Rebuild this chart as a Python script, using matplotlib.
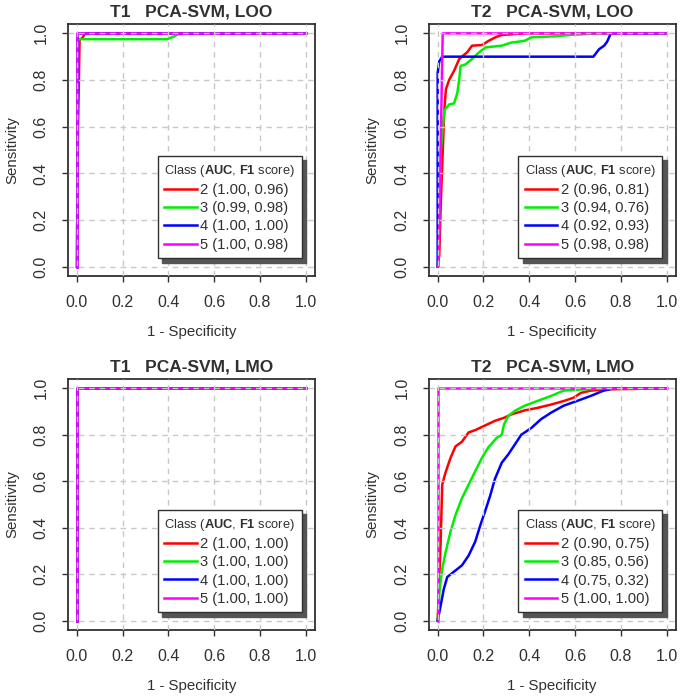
import matplotlib
matplotlib.use("Agg")
import matplotlib.pyplot as plt

# === ESTILO ===
plt.rcParams["font.family"] = ["Liberation Sans", "DejaVu Sans"]
plt.rcParams["mathtext.fontset"] = "custom"
plt.rcParams["mathtext.rm"] = "Liberation Sans"
plt.rcParams["mathtext.bf"] = "Liberation Sans:bold"

DARK = "#303030"
COLORES = ["#FF0000", "#00EE00", "#0000FF", "#FF00FF"]
CLASES = ["2", "3", "4", "5"]

# === DATOS ===
# curva perfecta
perf_fpr = [0.0, 0.0, 1.0]
perf_tpr = [0.0, 1.0, 1.0]

# T1 LOO
t1loo_c2_fpr = [0.0, 0.005, 0.008, 0.012, 0.023, 0.033, 0.045, 1.0]
t1loo_c2_tpr = [0.0, 0.60, 0.75, 0.975, 0.978, 0.995, 1.0, 1.0]
t1loo_c3_fpr = [0.0, 0.005, 0.395, 0.42, 0.445, 0.50, 1.0]
t1loo_c3_tpr = [0.0, 0.975, 0.975, 0.985, 0.997, 1.0, 1.0]

# T2 LOO
t2loo_c2_fpr = [0.0, 0.007, 0.014, 0.029, 0.036, 0.05, 0.072, 0.094, 0.13, 0.15, 0.194,
                0.223, 0.252, 0.28, 0.38, 1.0]
t2loo_c2_tpr = [0.0, 0.05, 0.28, 0.67, 0.76, 0.80, 0.84, 0.89, 0.92, 0.947, 0.95,
                0.968, 0.983, 0.993, 1.0, 1.0]
t2loo_c3_fpr = [0.0, 0.003, 0.014, 0.029, 0.05, 0.072, 0.086, 0.094, 0.10, 0.122, 0.15,
                0.18, 0.21, 0.28, 0.32, 0.38, 0.41, 0.51, 0.58, 0.70, 1.0]
t2loo_c3_tpr = [0.0, 0.05, 0.50, 0.67, 0.695, 0.70, 0.745, 0.80, 0.86, 0.867, 0.89,
                0.918, 0.94, 0.947, 0.96, 0.968, 0.983, 0.987, 0.993, 1.0, 1.0]
t2loo_c4_fpr = [0.0, 0.0, 0.007, 0.02, 0.68, 0.705, 0.727, 0.74, 0.755, 0.76, 1.0]
t2loo_c4_tpr = [0.0, 0.83, 0.88, 0.90, 0.90, 0.932, 0.947, 0.964, 0.997, 1.0, 1.0]
t2loo_c5_fpr = [0.0, 0.004, 0.022, 1.0]
t2loo_c5_tpr = [0.0, 0.0, 1.0, 1.0]

# T2 LMO
t2lmo_c2_fpr = [0.0, 0.013, 0.02, 0.032, 0.042, 0.056, 0.078, 0.106, 0.135, 0.164, 0.207,
                0.25, 0.29, 0.32, 0.38, 0.437, 0.495, 0.55, 0.595, 0.625, 0.668, 0.754,
                0.85, 0.95, 1.0]
t2lmo_c2_tpr = [0.0, 0.34, 0.585, 0.63, 0.66, 0.70, 0.75, 0.77, 0.81, 0.82, 0.84,
                0.86, 0.873, 0.887, 0.905, 0.916, 0.93, 0.945, 0.96, 0.98, 0.99, 0.996,
                0.997, 1.0, 1.0]
t2lmo_c3_fpr = [0.0, 0.009, 0.02, 0.035, 0.056, 0.078, 0.106, 0.135, 0.164, 0.193, 0.22,
                0.258, 0.28, 0.29, 0.308, 0.337, 0.38, 0.437, 0.495, 0.55, 0.61, 0.668,
                0.754, 1.0]
t2lmo_c3_tpr = [0.0, 0.137, 0.224, 0.296, 0.383, 0.455, 0.527, 0.585, 0.643, 0.70, 0.744,
                0.787, 0.80, 0.845, 0.88, 0.903, 0.925, 0.946, 0.967, 0.99, 0.994, 0.997,
                1.0, 1.0]
t2lmo_c4_fpr = [0.0, 0.013, 0.027, 0.042, 0.07, 0.106, 0.135, 0.164, 0.186, 0.207, 0.23,
                0.25, 0.28, 0.308, 0.337, 0.365, 0.41, 0.45, 0.495, 0.55, 0.61, 0.668,
                0.725, 0.768, 0.80, 1.0]
t2lmo_c4_tpr = [0.0, 0.065, 0.137, 0.188, 0.21, 0.238, 0.28, 0.34, 0.41, 0.47, 0.54,
                0.61, 0.68, 0.715, 0.758, 0.80, 0.83, 0.866, 0.895, 0.925, 0.946, 0.967,
                0.99, 0.999, 1.0, 1.0]

# metricas (AUC, F1)
t1loo_auc = [1.00, 0.99, 1.00, 1.00]
t1loo_f1 = [0.96, 0.98, 1.00, 0.98]
t2loo_auc = [0.96, 0.94, 0.92, 0.98]
t2loo_f1 = [0.81, 0.76, 0.93, 0.98]
t1lmo_auc = [1.00, 1.00, 1.00, 1.00]
t1lmo_f1 = [1.00, 1.00, 1.00, 1.00]
t2lmo_auc = [0.90, 0.85, 0.75, 1.00]
t2lmo_f1 = [0.75, 0.56, 0.32, 1.00]

titulos = ["T1   PCA-SVM, LOO", "T2   PCA-SVM, LOO", "T1   PCA-SVM, LMO", "T2   PCA-SVM, LMO"]
ticks = [0.0, 0.2, 0.4, 0.6, 0.8, 1.0]

paneles = [
    ([(t1loo_c2_fpr, t1loo_c2_tpr), (t1loo_c3_fpr, t1loo_c3_tpr), (perf_fpr, perf_tpr), (perf_fpr, perf_tpr)],
     t1loo_auc, t1loo_f1),
    ([(t2loo_c2_fpr, t2loo_c2_tpr), (t2loo_c3_fpr, t2loo_c3_tpr), (t2loo_c4_fpr, t2loo_c4_tpr), (t2loo_c5_fpr, t2loo_c5_tpr)],
     t2loo_auc, t2loo_f1),
    ([(perf_fpr, perf_tpr)] * 4, t1lmo_auc, t1lmo_f1),
    ([(t2lmo_c2_fpr, t2lmo_c2_tpr), (t2lmo_c3_fpr, t2lmo_c3_tpr), (t2lmo_c4_fpr, t2lmo_c4_tpr), (perf_fpr, perf_tpr)],
     t2lmo_auc, t2lmo_f1),
]

# posiciones de los ejes (fraccion de figura)
W, H = 685, 699
rects = [
    [67.7 / W, 1 - 276 / H, 247.3 / W, 252 / H],
    [428.5 / W, 1 - 276 / H, 247.3 / W, 252 / H],
    [67.7 / W, 1 - 630 / H, 247.3 / W, 251 / H],
    [428.5 / W, 1 - 630 / H, 247.3 / W, 251 / H],
]

fig = plt.figure(figsize=(6.85, 6.99), dpi=100)

for rect, titulo, (curvas, auc, f1) in zip(rects, titulos, paneles):
    ax = fig.add_axes(rect)
    for (fpr, tpr), col, cl, a, f in zip(curvas, COLORES, CLASES, auc, f1):
        ax.plot(fpr, tpr, color=col, lw=1.8, label=f"{cl} ({a:.2f}, {f:.2f})",
                solid_joinstyle="round")

    ax.set_xlim(-0.04, 1.04)
    ax.set_ylim(-0.04, 1.04)
    ax.set_xticks(ticks)
    ax.set_yticks(ticks)
    ax.set_xticklabels([f"{t:.1f}" for t in ticks])
    ax.set_yticklabels([f"{t:.1f}" for t in ticks], rotation=90, va="center")
    ax.tick_params(direction="out", length=4.3, width=1.0, color=DARK,
                   labelsize=11.5, labelcolor=DARK, pad=9.5)
    ax.set_axisbelow(False)
    ax.grid(True, color="#c8c8c8", linestyle=(0, (4, 3.5)), lw=1.0)
    for s in ax.spines.values():
        s.set_color(DARK)
        s.set_linewidth(1.3)

    ax.set_title(titulo, fontsize=12.5, fontweight="bold", color=DARK, pad=5.5)
    ax.set_xlabel("1 - Specificity", fontsize=10.8, color=DARK)
    ax.xaxis.set_label_coords(0.5, -0.222)
    ax.xaxis.label.set_verticalalignment("center")
    ax.set_ylabel("Sensitivity", fontsize=10.8, color=DARK)
    ax.yaxis.set_label_coords(-0.225, 0.5)
    ax.yaxis.label.set_verticalalignment("center")

    leg = ax.legend(loc="lower right", bbox_to_anchor=(0.946, 0.070), borderaxespad=0,
                    title=r"Class ($\mathbf{AUC}$, $\mathbf{F1}$ score)",
                    title_fontsize=9.3, fontsize=10.6, handlelength=2.2, handletextpad=0.25,
                    labelspacing=0.29, borderpad=0.45, alignment="left", fancybox=False,
                    framealpha=1, edgecolor=DARK,
                    shadow={"ox": 3, "oy": -3, "color": "#555555", "alpha": 1})
    leg.get_frame().set_linewidth(1.0)
    leg.get_title().set_color(DARK)
    for t in leg.get_texts():
        t.set_color(DARK)

plt.savefig("out.png", dpi=100)
